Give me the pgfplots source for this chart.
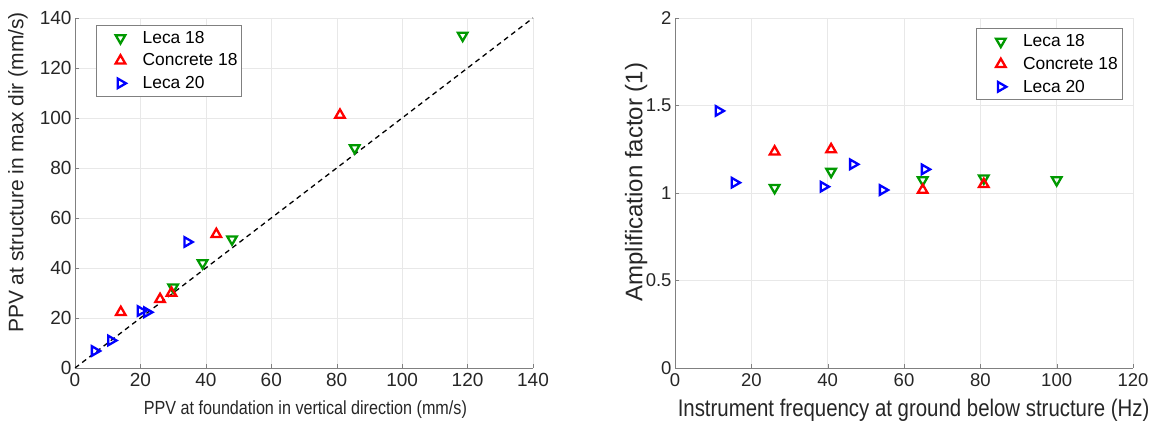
\documentclass[border=0pt]{standalone}
\usepackage{fontspec}
\setmainfont{Liberation Sans}
\newfontfamily\condensed{Liberation Sans}[FakeStretch=0.85]
\usepackage{pgfplots}
\pgfplotsset{compat=1.18}
\definecolor{mgreen}{rgb}{0,0.6,0}
\begin{document}
\begin{tikzpicture}[x=1pt,y=1pt]
\useasboundingbox (0,0) rectangle (1157,427);
\pgfplotsset{
  myax/.style={
    scale only axis, width=458pt, height=350pt,
    /pgf/number format/assume math mode=true,
    tick label style={font=\fontsize{19}{21}\selectfont, color=black!85},
    axis x line*=bottom, axis y line*=left,
    axis line style={black!50},
    tick style={black!50},
    tick align=inside, major tick length=4pt,
    grid=major, grid style={black!9},
    xticklabel style={yshift=-2pt},
    legend style={font=\fontsize{17.4}{20}\selectfont, draw=black!50, row sep=5pt,
      inner xsep=2pt, inner ysep=4pt},
    legend cell align=left,
  },
  myleg/.style={legend image code/.code={\path (0pt,-3pt) (42pt,3pt); \draw[##1] plot coordinates {(22pt,0pt)};}},
  gser/.style={mgreen, only marks, mark=triangle, mark size=5.5pt, mark options={solid, line width=2.3pt, rotate=180}, myleg},
  rser/.style={red, only marks, mark=triangle, mark size=5.5pt, mark options={solid, line width=2.3pt}, myleg},
  bser/.style={blue, only marks, mark=triangle, mark size=5.5pt, mark options={solid, line width=2.3pt, rotate=-90}, myleg},
}
\begin{axis}[myax, at={(75pt,59pt)}, anchor=south west,
  xmin=0, xmax=140, ymin=0, ymax=140,
  xtick={0,20,...,140}, ytick={0,20,...,140},
  xlabel={PPV at foundation in vertical direction (mm/s)},
  ylabel={PPV at structure in max dir (mm/s)},
  xlabel style={font=\fontsize{19}{21}\condensed, color=black!85, at={(axis description cs:0.503,-0.12)}, anchor=center},
  ylabel style={font=\fontsize{21}{23}\selectfont, color=black!85, at={(axis description cs:-0.1245,0.5586)}, anchor=center},
  legend style={at={(0.046,0.98)}, anchor=north west}]
\addplot[gser] coordinates {(118.5,133)(85.5,88)(48,51.5)(39,42)(30,32.3)};
\addlegendentry{Leca 18}
\addplot[rser] coordinates {(14,22.3)(26,27.5)(29.5,30)(43.2,53.5)(81,101.2)};
\addlegendentry{Concrete 18}
\addplot[bser] coordinates {(6,6.8)(11,11)(20,22.8)(22,22.3)(34.3,50.4)};
\addlegendentry{Leca 20}
\addplot[black, no marks, sharp plot, line width=1.3pt, dash pattern=on 5pt off 4pt, forget plot] coordinates {(0,0)(140,140)};
\end{axis}
\begin{axis}[myax, at={(675pt,59pt)}, anchor=south west,
  xmin=0, xmax=120, ymin=0, ymax=2,
  xtick={0,20,...,120}, ytick={0,0.5,1,1.5,2},
  yticklabels={0,0.5,1,1.5,2},
  tick label style={font=\fontsize{18.5}{21}\selectfont},
  xlabel={Instrument frequency at ground below structure (Hz)},
  ylabel={Amplification factor (1)},
  xlabel style={font=\fontsize{24}{26}\condensed, color=black!85, at={(axis description cs:0.521,-0.12)}, anchor=center},
  ylabel style={font=\fontsize{24}{26}\selectfont, color=black!85, at={(axis description cs:-0.085,0.531)}, anchor=center},
  legend style={at={(0.976,0.97)}, anchor=north east}]
\addplot[gser] coordinates {(26.1,1.030)(40.9,1.122)(64.9,1.074)(80.9,1.084)(100,1.074)};
\addlegendentry{Leca 18}
\addplot[rser] coordinates {(26.1,1.236)(40.9,1.249)(64.9,1.017)(80.9,1.050)};
\addlegendentry{Concrete 18}
\addplot[bser] coordinates {(11.4,1.469)(15.6,1.059)(38.9,1.036)(46.6,1.164)(54.4,1.017)(65.4,1.135)};
\addlegendentry{Leca 20}
\end{axis}
\end{tikzpicture}
\end{document}
